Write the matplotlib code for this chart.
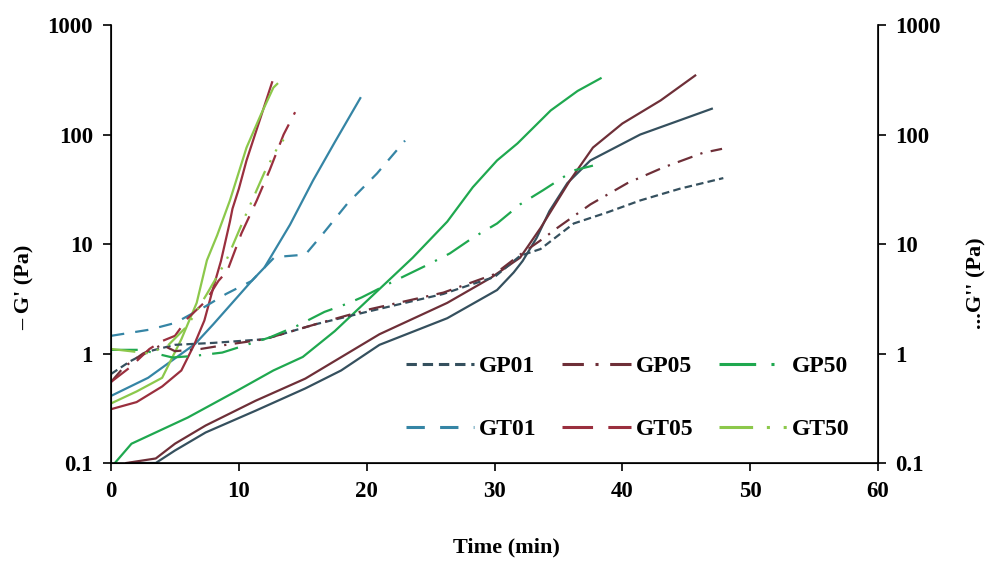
# G' and G'' vs time for six gel samples (log scale, twin y axis)

import matplotlib
matplotlib.use("Agg")
from matplotlib import pyplot as plt
from matplotlib.lines import Line2D

plt.rcParams["font.family"] = ["Liberation Serif", "DejaVu Serif"]
plt.rcParams["font.weight"] = "bold"

# --- data (time in min, modulus in Pa) ---
samples = ["GP01", "GP05", "GP50", "GT01", "GT05", "GT50"]
colors = ["#35505E", "#6E2F38", "#1FA84F", "#3585A5", "#9A2F3E", "#8CC84B"]

# G' (solid lines)
gp01_t1 = [1.5, 3.5, 5.0, 7.4, 11.3, 15.2, 18.0, 21.0, 26.3, 30.2, 31.5, 32.2, 33.3, 34.3, 35.7, 37.5, 41.4, 44.5, 47.0]
gp01_g1 = [0.10, 0.10, 0.13, 0.19, 0.30, 0.48, 0.70, 1.2, 2.1, 3.8, 5.5, 7.0, 11.4, 20, 36, 58, 100, 135, 172]
gp05_t1 = [1.2, 3.5, 5.0, 7.4, 11.3, 15.2, 21.0, 26.3, 29.7, 32.0, 33.6, 35.9, 37.7, 40.0, 43.0, 45.7]
gp05_g1 = [0.10, 0.11, 0.15, 0.22, 0.37, 0.59, 1.5, 2.9, 4.9, 7.5, 14, 38, 76, 126, 205, 346]
gp50_t1 = [0.3, 1.6, 6.0, 9.9, 12.7, 15.0, 17.5, 20.3, 23.6, 26.3, 28.3, 30.2, 31.8, 34.4, 36.5, 38.3]
gp50_g1 = [0.10, 0.15, 0.26, 0.46, 0.70, 0.93, 1.6, 3.25, 7.5, 16, 33, 58, 83, 166, 250, 326]
gt01_t1 = [0.0, 2.9, 6.6, 8.0, 11.0, 12.0, 14.0, 15.8, 17.5, 19.5]
gt01_g1 = [0.41, 0.60, 1.23, 1.85, 4.6, 6.1, 15, 38, 85, 215]
gt05_t1 = [0.0, 2.0, 4.0, 5.5, 6.5, 7.3, 8.0, 8.6, 9.3, 9.5, 10.0, 10.6, 11.7, 12.6]
gt05_g1 = [0.31, 0.36, 0.50, 0.70, 1.2, 2.0, 4.0, 7.0, 16, 21, 32, 58, 143, 300]
gt50_t1 = [0.0, 2.0, 4.0, 5.5, 6.7, 7.5, 8.3, 9.3, 10.6, 11.7, 12.7, 13.0]
gt50_g1 = [0.35, 0.45, 0.60, 1.35, 2.9, 7.1, 12, 25, 76, 150, 268, 290]

# G'' (broken lines)
gp01_t2 = [0.0, 1.5, 3.0, 5.0, 8.0, 12.0, 16.0, 20.0, 23.0, 26.0, 28.0, 30.0, 32.0, 33.6, 36.2, 38.8, 41.4, 44.5, 47.9]
gp01_g2 = [0.65, 0.85, 1.05, 1.2, 1.25, 1.35, 1.85, 2.4, 2.9, 3.5, 4.2, 5.0, 7.8, 9.0, 15.4, 19.4, 25, 32, 40]
gp05_t2 = [0.0, 1.0, 2.5, 4.0, 5.0, 7.0, 9.0, 12.0, 16.0, 20.0, 23.0, 26.0, 30.0, 32.0, 33.8, 34.9, 37.5, 40.4, 43.2, 46.3, 47.8]
gp05_g2 = [0.55, 0.75, 1.0, 1.2, 1.05, 1.1, 1.2, 1.35, 1.85, 2.5, 3.0, 3.6, 5.3, 8.0, 11.2, 14, 23, 36, 50, 68, 74]
gp50_t2 = [0.0, 2.4, 3.5, 4.8, 6.5, 8.7, 9.9, 12.4, 14.6, 16.7, 18.5, 19.6, 22.0, 24.7, 26.5, 28.3, 30.2, 32.0, 33.8, 36.2, 37.7]
gp50_g2 = [1.08, 1.08, 1.0, 0.92, 0.95, 1.02, 1.13, 1.4, 1.8, 2.4, 2.86, 3.25, 4.5, 6.4, 8.2, 11.4, 15.4, 23, 31, 47, 52]
gt01_t2 = [0.0, 3.0, 5.0, 7.4, 9.0, 11.0, 12.8, 15.2, 16.6, 18.5, 20.8, 23.0]
gt01_g2 = [1.45, 1.65, 1.9, 2.7, 3.5, 4.6, 7.6, 8.0, 12.5, 23.5, 44, 88]
gt05_t2 = [0.0, 1.5, 3.0, 4.0, 5.0, 6.0, 7.4, 8.4, 9.1, 10.2, 11.4, 12.4, 13.5, 14.4]
gt05_g2 = [0.55, 0.75, 1.1, 1.3, 1.45, 2.1, 3.0, 4.6, 5.7, 12.5, 25, 47, 100, 160]
gt50_t2 = [0.0, 1.5, 3.0, 4.5, 6.0, 7.5, 9.0, 10.5, 12.0, 13.0, 13.5]
gt50_g2 = [1.1, 1.05, 1.0, 1.2, 1.8, 3.5, 7.0, 18, 45, 75, 90]

# dash patterns for G'' curves
dashes = [(3.4, 1.9), (7, 3.8, 1, 3.8), (12, 5, 1, 5),
          (6, 5), (10, 5), (11, 4.5, 1, 4.5, 1, 4.5)]

g1 = [(gp01_t1, gp01_g1), (gp05_t1, gp05_g1), (gp50_t1, gp50_g1),
      (gt01_t1, gt01_g1), (gt05_t1, gt05_g1), (gt50_t1, gt50_g1)]
g2 = [(gp01_t2, gp01_g2), (gp05_t2, gp05_g2), (gp50_t2, gp50_g2),
      (gt01_t2, gt01_g2), (gt05_t2, gt05_g2), (gt50_t2, gt50_g2)]

fig = plt.figure(figsize=(9.95, 5.69), dpi=100)
ax = fig.add_axes([0.1116, 0.1863, 0.7708, 0.7697])

for (t, g), c in zip(g1, colors):
    ax.plot(t, g, color=c, lw=1.6)
for (t, g), c, d in zip(g2, colors, dashes):
    ax.plot(t, g, color=c, lw=1.6, dashes=d)

ticks = [0.1, 1, 10, 100, 1000]
tick_labels = ["0.1", "1", "10", "100", "1000"]

ax.set_yscale("log")
ax.set_ylim(0.1, 1000)
ax.set_xlim(0, 60)
ax.set_xticks(range(0, 61, 10))
ax.set_yticks(ticks)
ax.set_yticklabels(tick_labels)
ax.minorticks_off()
ax.spines["top"].set_visible(False)
ax.tick_params(axis="both", direction="out", length=6, width=1.2, labelsize=16.5, pad=7)
for s in ["left", "bottom"]:
    ax.spines[s].set_linewidth(1.2)

ax2 = ax.twinx()
ax2.set_yscale("log")
ax2.set_ylim(0.1, 1000)
ax2.set_yticks(ticks)
ax2.set_yticklabels(tick_labels)
ax2.minorticks_off()
ax2.spines["top"].set_visible(False)
ax2.spines["right"].set_linewidth(1.2)
ax2.tick_params(axis="y", direction="out", length=6, width=1.2, labelsize=16.5, pad=6)

fig.text(0.025, 0.495, "– G' (Pa)", rotation=90, ha="center", va="center", fontsize=16, fontweight="bold")
fig.text(0.981, 0.502, "...G'' (Pa)", rotation=90, ha="center", va="center", fontsize=16, fontweight="bold")
fig.text(0.509, 0.037, "Time (min)", ha="center", va="center", fontsize=16, fontweight="bold")

handles = [Line2D([], [], color=c, lw=2.2, dashes=d) for c, d in zip(colors, dashes)]
order = [0, 3, 1, 4, 2, 5]
ax.legend([handles[i] for i in order], [samples[i] for i in order],
          ncol=3, loc="upper left", bbox_to_anchor=(0.384, 0.245), frameon=False,
          fontsize=17, handlelength=2.9, handletextpad=0.2, columnspacing=1.1,
          labelspacing=1.75, borderpad=0, borderaxespad=0)

fig.savefig("out.png", dpi=100)
